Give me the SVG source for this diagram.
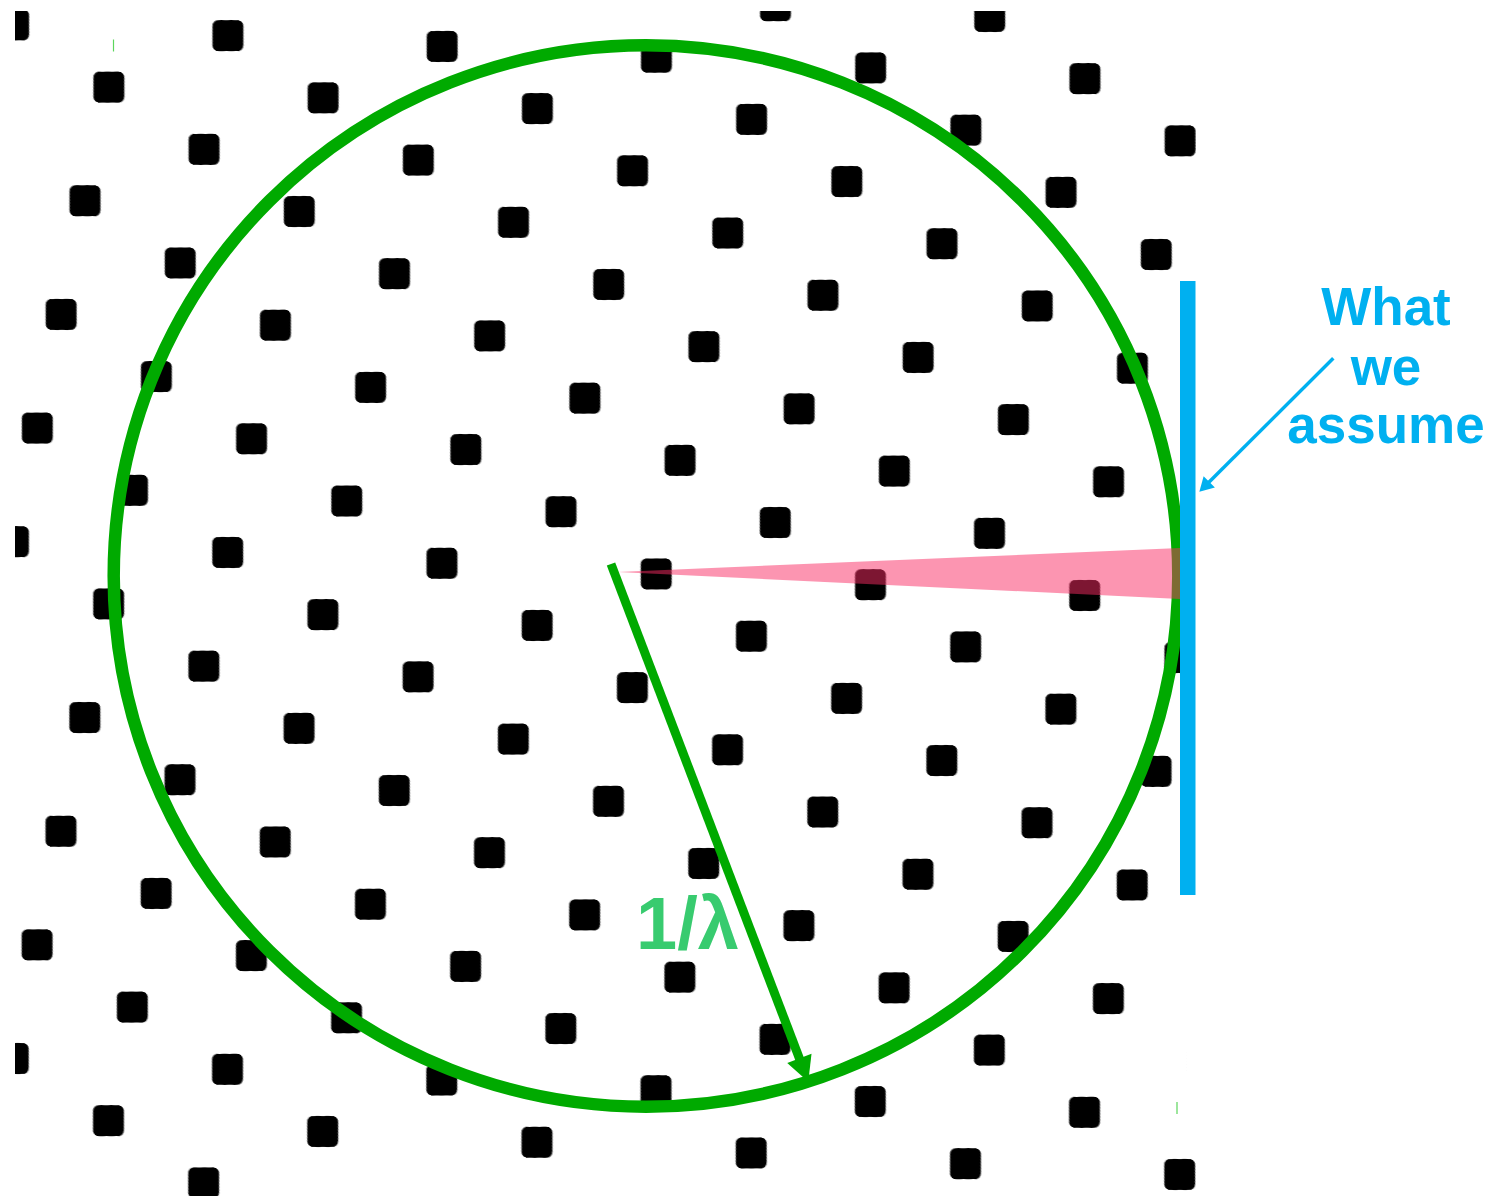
<svg xmlns="http://www.w3.org/2000/svg" width="1499" height="1196" viewBox="0 0 1499 1196">
<style>
.green-stroke{stroke:#00AA00;fill:none}
.lbl-blue{font-family:"Liberation Sans",Arial,sans-serif;font-weight:bold;font-size:53px;fill:#00B0F0;text-anchor:middle}
.lbl-green{font-family:"Liberation Sans",Arial,sans-serif;font-weight:bold;font-size:74px;fill:#38CB6F}
.tick{stroke:#5CD65C;stroke-width:1.2}
</style>
<defs>
<pattern id="dots" patternUnits="userSpaceOnUse" x="0" y="0" width="1" height="1" patternTransform="matrix(214.25 10.75 95.2 62.2 501.5 537.5)">
<g transform="translate(0.5 0.5) matrix(0.0050557 -0.00087377 -0.00773798 0.01741452 0 0)">
<rect x="-15.5" y="-15.5" width="31" height="31" rx="6" fill="#000"/>
</g>
</pattern>
<clipPath id="latticeClip">
<rect x="15" y="11" width="1172" height="1163"/>
<rect x="15" y="1150" width="285" height="46"/>
<rect x="900" y="1140" width="296" height="56"/>
<rect x="1186" y="120" width="10" height="38"/>
</clipPath>
<marker id="ahG" markerUnits="userSpaceOnUse" markerWidth="26" markerHeight="26" refX="13" refY="13" orient="auto" overflow="visible"><path d="M0,0 L25,13 L0,26 z" fill="#00AA00"/></marker>
<marker id="ahB" markerUnits="userSpaceOnUse" markerWidth="16" markerHeight="16" refX="8" refY="8" orient="auto" overflow="visible"><path d="M0,0 L14,8 L0,16 z" fill="#00B0F0"/></marker>
</defs>
<rect width="1499" height="1196" fill="#fff"/>
<g id="lattice" clip-path="url(#latticeClip)"><rect x="15" y="11" width="1181" height="1185" fill="url(#dots)"/></g>
<g id="corner-ticks">
<line class="tick" x1="113.5" y1="39.5" x2="113.5" y2="51.5"/>
<line class="tick" x1="1177" y1="1102" x2="1177" y2="1114"/>
</g>
<g id="circle"><ellipse class="green-stroke" cx="646" cy="576" rx="532.3" ry="530.7" stroke-width="12.5"/></g>
<g id="wedge"><polygon points="618,572 1180,548 1180,599" fill="#FA2C64" fill-opacity="0.5"/></g>
<g id="assumption-line"><rect x="1180" y="281" width="15.5" height="614" fill="#00B0F0"/></g>
<g id="connectors">
<line x1="611" y1="564" x2="804" y2="1070.5" stroke="#00AA00" stroke-width="9" marker-end="url(#ahG)"/>
<line x1="1333.3" y1="358.3" x2="1203.6" y2="487.5" stroke="#00B0F0" stroke-width="3.5" marker-end="url(#ahB)"/>
</g>
<g id="label-lambda"><text class="lbl-green" x="636" y="949">1/λ</text></g>
<g id="label-assume"><text class="lbl-blue"><tspan x="1386" y="325">What</tspan><tspan x="1386" y="385">we</tspan><tspan x="1386" y="443">assume</tspan></text></g>
</svg>
